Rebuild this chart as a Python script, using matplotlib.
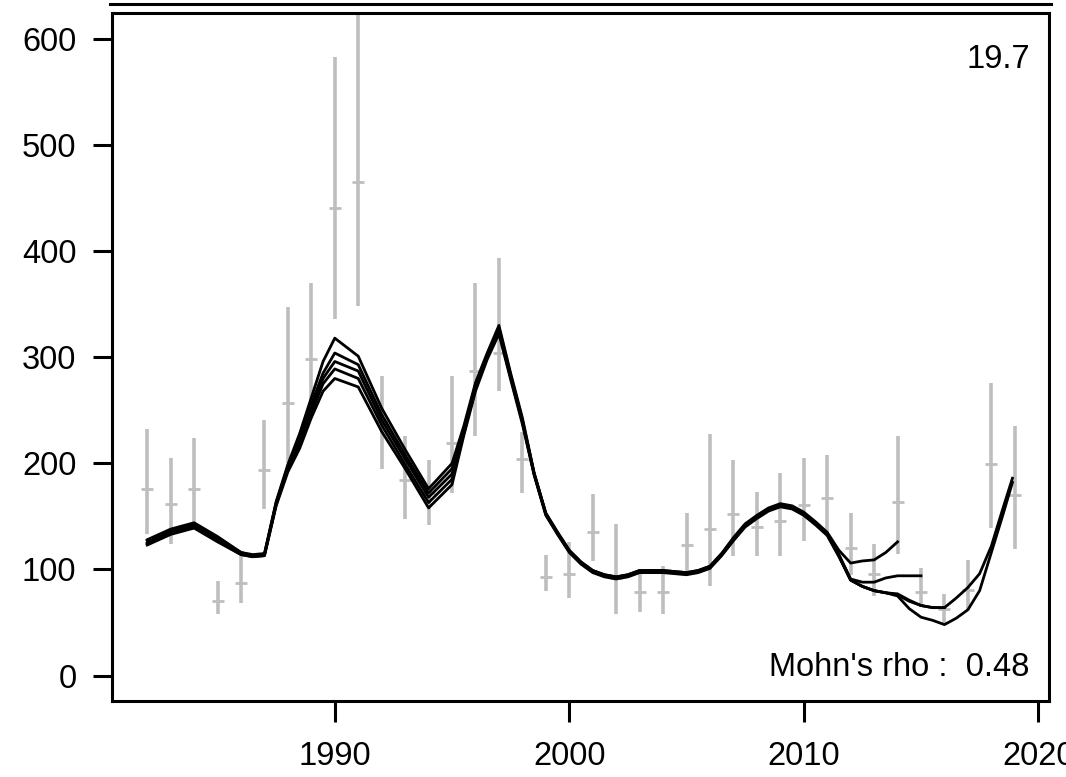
import numpy as np
import matplotlib
matplotlib.use('Agg')
import matplotlib.pyplot as plt

plt.rcParams['font.family'] = ['Liberation Sans', 'DejaVu Sans']

nan = np.nan

# time grid of the retrospective lines
t = [1982, 1983, 1984, 1985, 1986, 1986.5, 1987,
     1987.5, 1988, 1988.5, 1989, 1989.5, 1990,
     1991, 1992, 1993, 1994,
     1995, 1995.5, 1996, 1996.5, 1997, 1997.5, 1998,
     1998.5, 1999, 1999.5, 2000, 2000.5, 2001, 2001.5, 2002, 2002.5, 2003,
     2004, 2004.5, 2005, 2005.5, 2006, 2006.5, 2007, 2007.5, 2008, 2008.5,
     2009, 2009.5, 2010, 2010.5, 2011,
     2011.5, 2012, 2012.5, 2013, 2013.5, 2014,
     2014.5, 2015, 2015.5, 2016,
     2016.5, 2017, 2017.5, 2018, 2018.5, 2018.9]

# full run (ends 2019)
run_a = [123, 133, 139, 126, 114, 112, 113,
         160, 192, 214, 243, 268, 280,
         272, 230, 195, 158,
         180, 226, 268, 298, 322, 279, 237,
         189, 151, 133, 116, 105, 97, 93, 91, 93, 97,
         97, 96, 95, 97, 101, 113, 127, 140, 148, 155,
         159, 157, 151, 142, 132,
         112, 90, 84, 80, 78, 75,
         63, 55, 52, 48,
         54, 62, 80, 116, 152, 182]
run_b = [124, 134, 140, 127, 114, 112, 113,
         161, 194, 218, 248, 275, 289,
         280, 236, 199, 163,
         185, 228, 270, 300, 324, 281, 239,
         190, 152, 134, 117, 106, 98, 94, 92, 94, 98,
         98, 97, 96, 98, 102, 114, 128, 141, 149, 156,
         160, 158, 152, 143, 133,
         113, 90, 84, 80, 78, 76,
         70, 66, 64, 64,
         73, 83, 96, 122, 158, 186]
# peel ending 2016
run_c = [125, 135, 141, 128, 115, 113, 114,
         162, 195, 221, 252, 280, 296,
         287, 241, 204, 168,
         190, 230, 272, 301, 326, 282, 240,
         190, 152, 134, 117, 106, 98, 94, 92, 94, 98,
         98, 97, 96, 98, 102, 114, 128, 141, 149, 156,
         160, 158, 152, 143, 133,
         113, 90, 84, 80, 78, 77,
         71, 66, 64, 64,
         nan, nan, nan, nan, nan, nan]
# peel ending 2015
run_d = [127, 137, 143, 130, 116, 113, 114,
         163, 197, 224, 256, 285, 304,
         293, 246, 208, 172,
         195, 232, 274, 302, 328, 283, 241,
         191, 153, 135, 118, 107, 99, 95, 93, 95, 99,
         99, 98, 97, 99, 103, 115, 129, 142, 150, 157,
         161, 159, 153, 144, 134,
         114, 91, 88, 88, 92, 94,
         94, 94, nan, nan,
         nan, nan, nan, nan, nan, nan]
# peel ending 2014
run_e = [128, 138, 144, 131, 116, 114, 115,
         164, 199, 228, 262, 296, 318,
         301, 252, 213, 176,
         200, 235, 276, 304, 330, 285, 243,
         191, 153, 135, 118, 107, 99, 95, 93, 95, 99,
         99, 98, 97, 99, 103, 115, 130, 143, 151, 158,
         162, 160, 154, 145, 135,
         118, 106, 108, 109, 116, 126,
         nan, nan, nan, nan,
         nan, nan, nan, nan, nan, nan]

# observed index with intervals (grey)
obs_year = list(range(1982, 2020))
obs_mid = [176, 162, 176, 70, 87, 194, 257, 298, 441, 465, 240, 184, 172, 219, 287, 304,
           204, 93, 96, 135, 92, 79, 79, 123, 138, 152, 140, 146, 161, 167, 120, 96,
           164, 79, 63, 81, 199, 170]
obs_low = [133, 124, 137, 58, 68, 157, 200, 245, 336, 348, 195, 148, 142, 172, 226, 268,
           172, 80, 73, 108, 58, 60, 58, 96, 84, 113, 113, 113, 127, 133, 95, 75,
           115, 65, 48, 62, 139, 119]
obs_high = [232, 205, 224, 89, 113, 241, 347, 370, 583, 720, 282, 226, 203, 282, 370, 394,
            230, 114, 126, 171, 143, 100, 103, 153, 228, 203, 173, 191, 205, 208, 153, 124,
            226, 101, 77, 109, 276, 235]

fig = plt.figure(figsize=(10.66, 7.77), dpi=100)
ax = fig.add_axes([0.10553, 0.09781, 0.87899, 0.88482])

# grey intervals and point estimates
ax.vlines(obs_year, obs_low, obs_high, color='#BEBEBE', lw=2.6, zorder=1)
ax.plot(obs_year, obs_mid, '_', color='#BEBEBE', markersize=8, markeredgewidth=2, zorder=1)

# retrospective runs
for run in [run_e, run_d, run_c, run_b, run_a]:
    ax.plot(t, run, color='black', lw=2, zorder=2)

ax.set_xlim(1980.52, 2020.48)
ax.set_ylim(-24, 624)
ax.set_xticks([1990, 2000, 2010, 2020])
ax.set_yticks([0, 100, 200, 300, 400, 500, 600])
ax.tick_params(axis='both', direction='out', width=2.2, labelsize=23.5)
ax.tick_params(axis='y', length=14, pad=12)
ax.tick_params(axis='x', length=15, pad=14)
for s in ax.spines.values():
    s.set_linewidth(2.2)

ax.text(0.979, 0.9214, '19.7', transform=ax.transAxes, ha='right', va='baseline', fontsize=23.5)
ax.text(0.979, 0.0364, "Mohn's rho :  0.48", transform=ax.transAxes, ha='right', va='baseline',
        fontsize=23.5)

# line left over from the panel above
fig.add_artist(plt.Line2D([110 / 1066, 1051 / 1066], [1 - 4.3 / 777] * 2, color='black', lw=2.2))

fig.savefig('out.png', dpi=100)
